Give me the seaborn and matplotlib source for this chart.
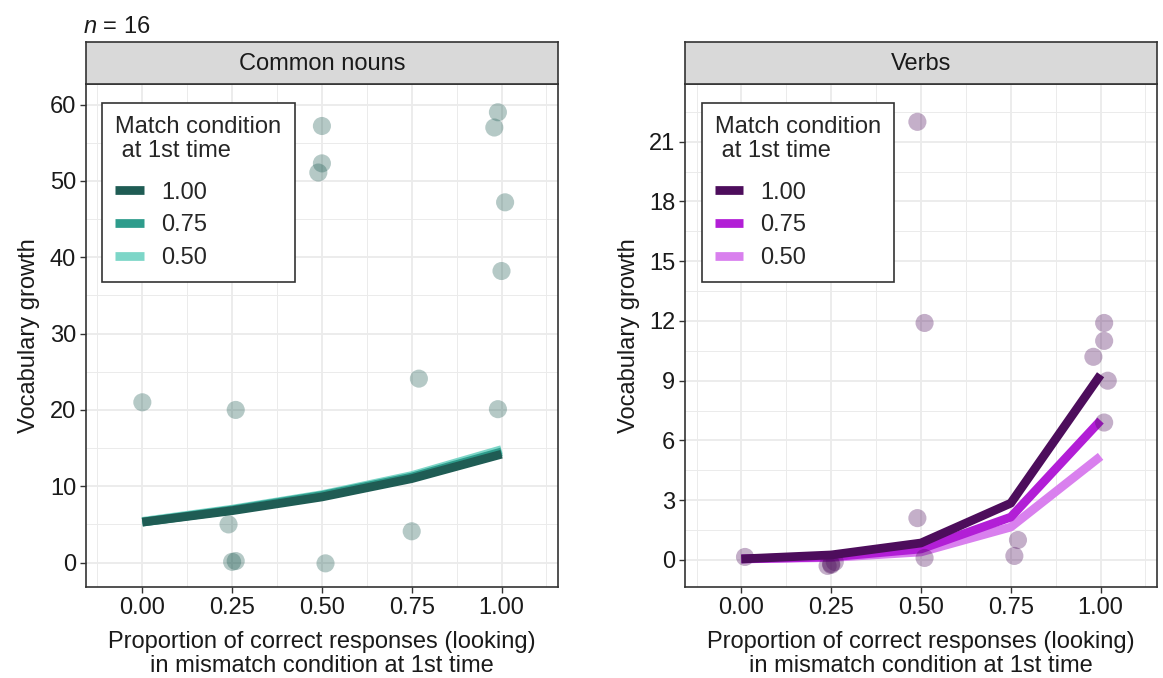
import numpy as np
import pandas as pd
import matplotlib
matplotlib.use("Agg")
import matplotlib.pyplot as plt
import seaborn as sns
from matplotlib.ticker import MultipleLocator

# ---------------- data ----------------
levels = ["1.00", "0.75", "0.50"]
x_grid = [0.00, 0.25, 0.50, 0.75, 1.00]
x_tick_labels = ["0.00", "0.25", "0.50", "0.75", "1.00"]

# Common nouns: model lines
noun_fit_100 = [5.3, 6.8, 8.6, 11.0, 14.2]
noun_fit_075 = [5.3, 6.9, 8.8, 11.2, 14.5]
noun_fit_050 = [5.4, 7.0, 8.9, 11.4, 14.8]
# Common nouns: observed points
noun_x = [0.00, 0.26, 0.50, 0.50, 0.49, 0.99, 0.98, 1.01, 1.00, 0.77, 0.99, 0.24, 0.75, 0.25, 0.26, 0.51]
noun_y = [21.0, 20.0, 57.2, 52.3, 51.1, 59.0, 57.0, 47.2, 38.2, 24.1, 20.1, 5.0, 4.1, 0.1, 0.2, -0.1]

# Verbs: model lines
verb_fit_100 = [0.05, 0.25, 0.85, 2.85, 9.3]
verb_fit_075 = [0.05, 0.15, 0.55, 2.15, 7.0]
verb_fit_050 = [0.05, 0.12, 0.40, 1.65, 5.2]
# Verbs: observed points
verb_x = [0.49, 0.51, 1.01, 1.01, 0.98, 1.02, 1.01, 0.49, 0.77, 0.76, 0.51, 0.01, 0.24, 0.25, 0.26, 0.25]
verb_y = [22.0, 11.9, 11.9, 11.0, 10.2, 9.0, 6.9, 2.1, 1.0, 0.2, 0.1, 0.15, -0.3, -0.2, -0.1, -0.25]

noun_colors = {"1.00": "#1f5c54", "0.75": "#2e9c8c", "0.50": "#7dd6c8"}
verb_colors = {"1.00": "#4d0d5c", "0.75": "#b21ed6", "0.50": "#d980ee"}

# ---------------- style ----------------
sns.set_theme(style="white")
plt.rcParams['font.family'] = ['Liberation Sans', 'DejaVu Sans']
plt.rcParams['mathtext.fontset'] = 'custom'
plt.rcParams['mathtext.it'] = 'Liberation Sans:italic'
plt.rcParams['mathtext.rm'] = 'Liberation Sans'
FS = 17
TXT = "#1a1a1a"
EDGE = "#333333"

fig = plt.figure(figsize=(11.63, 6.78), dpi=100)


def make_panel(x0, fits, colors, px, py, ylim, ymaj, ymin, title, ylab_x):
    ax = fig.add_axes([x0, 0.1342, 0.4058, 0.7419])
    rows = []
    for lev, vals in zip(levels, fits):
        for xv, yv in zip(x_grid, vals):
            rows.append({"x": xv, "y": yv, "level": lev})
    df = pd.DataFrame(rows)
    sns.lineplot(data=df, x="x", y="y", hue="level", hue_order=["0.50", "0.75", "1.00"],
                 palette=colors, linewidth=6.3, ax=ax, sort=False, estimator=None,
                 solid_capstyle="butt", solid_joinstyle="round", zorder=3)
    pts = pd.DataFrame({"x": px, "y": py})
    sns.scatterplot(data=pts, x="x", y="y", color=colors["1.00"], alpha=0.33, s=170,
                    linewidth=0, edgecolor="none", ax=ax, zorder=4)

    ax.set_xlim(-0.157, 1.157)
    ax.set_ylim(*ylim)
    ax.set_xticks(x_grid)
    ax.set_xticklabels(x_tick_labels)
    ax.xaxis.set_minor_locator(MultipleLocator(0.125))
    ax.yaxis.set_major_locator(MultipleLocator(ymaj))
    ax.yaxis.set_minor_locator(MultipleLocator(ymin))
    ax.grid(which="major", color="#ebebeb", linewidth=1.3)
    ax.grid(which="minor", color="#ebebeb", linewidth=0.7)
    ax.set_axisbelow(True)
    for sp in ax.spines.values():
        sp.set_visible(True)
        sp.set_color(EDGE)
        sp.set_linewidth(1.2)
    ax.tick_params(which="major", direction="out", length=4, width=1.0, color=EDGE,
                   labelsize=FS, labelcolor=TXT, pad=3, bottom=True, left=True)
    ax.tick_params(which="minor", length=0)

    ax.set_xlabel("Proportion of correct responses (looking)\nin mismatch condition at 1st time",
                  fontsize=FS, color=TXT, labelpad=9, linespacing=1.12)
    ax.set_ylabel("Vocabulary growth", fontsize=FS, color=TXT)
    ax.yaxis.set_label_coords(ylab_x, 0.5)

    handles, labels = ax.get_legend_handles_labels()
    hmap = dict(zip(labels, handles))
    leg = ax.legend([hmap[l] for l in levels], levels, title="Match condition\n at 1st time",
                    loc="upper left", bbox_to_anchor=(0.035, 0.962), borderaxespad=0,
                    fontsize=FS, title_fontsize=FS, frameon=True, fancybox=False,
                    framealpha=1, edgecolor=EDGE, handlelength=1.2, handletextpad=0.75,
                    labelspacing=0.45, borderpad=0.55, alignment="left")
    leg.get_frame().set_linewidth(1.2)
    leg.set_zorder(10)
    leg._legend_box.sep = 14
    leg.get_title().set_linespacing(1.12)
    for line in leg.get_lines():
        line.set_linewidth(6.3)
        line.set_solid_capstyle("butt")

    # facet strip
    sax = fig.add_axes([x0, 0.8761, 0.4058, 0.0619])
    sax.set_facecolor("#d9d9d9")
    sax.set_xticks([])
    sax.set_yticks([])
    for sp in sax.spines.values():
        sp.set_visible(True)
        sp.set_color(EDGE)
        sp.set_linewidth(1.2)
    sax.text(0.5, 0.47, title, ha="center", va="center", fontsize=FS, color=TXT,
             transform=sax.transAxes)
    return ax


make_panel(0.0739, [noun_fit_100, noun_fit_075, noun_fit_050], noun_colors,
           noun_x, noun_y, (-3.2, 62.7), 10, 5, "Common nouns", -0.097)
make_panel(0.589, [verb_fit_100, verb_fit_075, verb_fit_050], verb_colors,
           verb_x, verb_y, (-1.36, 23.9), 3, 1.5, "Verbs", -0.095)

fig.text(0.0714, 0.951, r"$n$ = 16", fontsize=FS, color=TXT, ha="left", va="baseline")

fig.savefig("out.png", dpi=100)
